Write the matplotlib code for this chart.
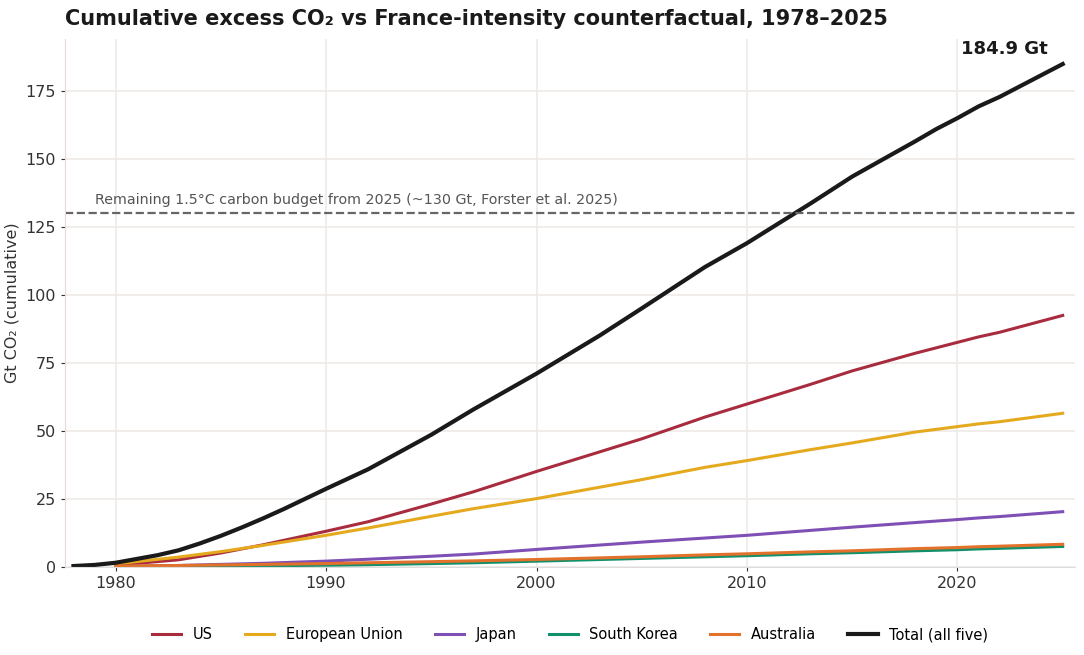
import numpy as np
import matplotlib.pyplot as plt

years_total = [1978, 1979, 1980, 1981, 1982, 1983, 1984, 1985, 1986, 1987, 1988, 1990, 1992, 1995, 1997,
               2000, 2003, 2005, 2008, 2010, 2013, 2015, 2018, 2019, 2020, 2021, 2022, 2025]
total = [0.2, 0.6, 1.4, 2.8, 4.2, 6.0, 8.5, 11.3, 14.4, 17.7, 21.2, 28.6, 35.8, 48.5, 57.8,
         71.0, 85.0, 95.0, 110.2, 119.0, 133.5, 143.5, 156.5, 161.0, 165.0, 169.3, 172.8, 184.9]

years = [1980, 1983, 1985, 1987, 1990, 1992, 1995, 1997, 2000, 2005, 2008, 2010, 2013, 2015, 2018, 2020, 2021, 2022, 2025]
us = [0.5, 2.5, 5.0, 8.0, 13.0, 16.5, 23.0, 27.5, 35.0, 47.0, 55.0, 59.8, 67.0, 72.0, 78.5, 82.5, 84.5, 86.2, 92.4]
eu = [1.0, 3.5, 5.5, 7.8, 11.5, 14.2, 18.5, 21.3, 25.0, 32.0, 36.5, 39.0, 43.0, 45.5, 49.5, 51.5, 52.5, 53.3, 56.4]
japan = [0.0, 0.4, 0.8, 1.2, 2.0, 2.7, 3.8, 4.6, 6.3, 9.0, 10.5, 11.5, 13.3, 14.5, 16.2, 17.3, 17.9, 18.4, 20.2]
skorea = [0.0, 0.1, 0.2, 0.3, 0.5, 0.7, 1.1, 1.4, 2.0, 3.0, 3.6, 4.0, 4.7, 5.1, 5.8, 6.2, 6.5, 6.7, 7.4]
australia = [0.2, 0.4, 0.6, 0.8, 1.1, 1.4, 1.8, 2.1, 2.6, 3.6, 4.3, 4.7, 5.4, 5.8, 6.6, 7.0, 7.3, 7.5, 8.2]

SERIES = [("US", us, "#a82c3e"), ("European Union", eu, "#e5a91e"),
          ("Japan", japan, "#7e4fb5"), ("South Korea", skorea, "#11916b"),
          ("Australia", australia, "#e1712b")]

fig, ax = plt.subplots(figsize=(10.84, 6.55), dpi=100)
for name, vals, c in SERIES:
    ax.plot(years, vals, color=c, lw=2.2, label=name)
ax.plot(years_total, total, color="#1a1a1a", lw=3.0, label="Total (all five)")

ax.axhline(130, color="#666666", ls="--", lw=1.6)
ax.text(1979.0, 133.5, "Remaining 1.5°C carbon budget from 2025 (~130 Gt, Forster et al. 2025)",
        fontsize=10.3, color="#555555")
ax.text(2024.3, 187, f"{total[-1]:.1f} Gt", fontsize=13, fontweight="bold", ha="right",
        va="bottom", color="#1a1a1a")

ax.set_xlim(1977.6, 2025.6)
ax.set_ylim(0, 194)
ax.set_yticks(range(0, 176, 25))
ax.set_xticks([1980, 1990, 2000, 2010, 2020])
ax.grid(color="#eeeae6", lw=1.2)
ax.set_axisbelow(True)
for s in ["top", "right"]:
    ax.spines[s].set_visible(False)
ax.spines["left"].set_color("#e8d8dc")
ax.spines["bottom"].set_color("#dddddd")
ax.tick_params(labelsize=11.5, colors="#333333", length=3)
ax.set_ylabel("Gt CO₂ (cumulative)", fontsize=11.5, color="#333333")
ax.set_title("Cumulative excess CO₂ vs France-intensity counterfactual, 1978–2025",
             fontsize=15, fontweight="bold", loc="left", color="#1a1a1a", pad=10)
ax.legend(loc="upper center", bbox_to_anchor=(0.5, -0.09), ncol=6, frameon=False, fontsize=10.5,
          columnspacing=2.2)
fig.subplots_adjust(left=0.06, right=0.992, top=0.94, bottom=0.135)
fig.savefig("out.png", dpi=100)
